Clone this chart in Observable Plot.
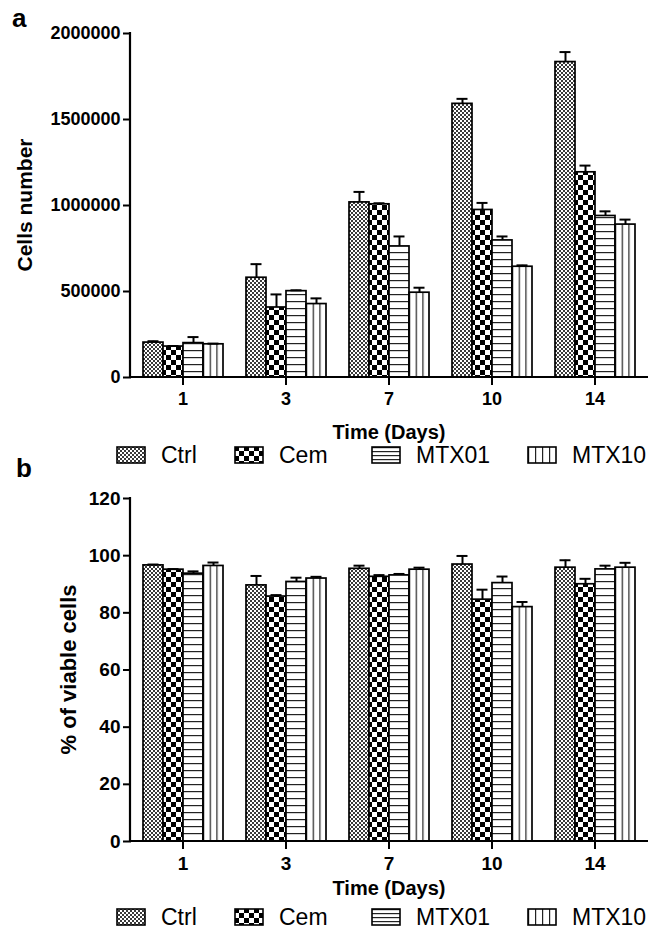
<!DOCTYPE html>
<html><head><meta charset="utf-8">
<script src="https://cdn.jsdelivr.net/npm/d3@7"></script>
<script src="https://cdn.jsdelivr.net/npm/@observablehq/plot@0.6"></script>
<style>
body{margin:0;background:#fff;}
#fig{position:relative;width:657px;height:929px;font-family:"Liberation Sans",Arial,sans-serif;overflow:hidden;background:#fff}
#fig > svg{position:absolute;left:0}
.lbl{position:absolute;font-weight:bold;font-size:26px;line-height:26px;height:26px}
.legend{position:absolute;left:0;width:657px;height:26px}
.item{position:absolute;top:0;display:flex;align-items:center;height:26px;font-size:23px;line-height:26px}
.item svg{margin-right:15px;display:block}
</style></head><body>
<svg width="0" height="0" style="position:absolute">
  <defs>
    <pattern id="pat-Ctrl" patternUnits="userSpaceOnUse" width="4" height="4">
      <rect width="4" height="4" fill="#fff"/><rect width="2" height="2" fill="#3a3a3a"/><rect x="2" y="2" width="2" height="2" fill="#3a3a3a"/>
    </pattern>
    <pattern id="pat-Cem" patternUnits="userSpaceOnUse" width="10" height="10">
      <rect width="10" height="10" fill="#fff"/><rect width="5" height="5" fill="#000"/><rect x="5" y="5" width="5" height="5" fill="#000"/>
    </pattern>
    <pattern id="pat-MTX01" patternUnits="userSpaceOnUse" width="10" height="7">
      <rect width="10" height="7" fill="#fff"/><rect y="0" width="10" height="1.2" fill="#222"/>
    </pattern>
    <pattern id="pat-MTX10" patternUnits="objectBoundingBox" width="0.3333" height="1">
      <rect width="100" height="3000" fill="#fff"/><rect x="0" width="1.2" height="3000" fill="#222"/>
    </pattern>
    <pattern id="leg-MTX01" patternUnits="objectBoundingBox" width="1" height="0.25">
      <rect width="100" height="100" fill="#fff"/><rect y="0" width="100" height="1.2" fill="#222"/>
    </pattern>
    <pattern id="leg-MTX10" patternUnits="objectBoundingBox" width="0.25" height="1">
      <rect width="100" height="100" fill="#fff"/><rect x="0" width="1.2" height="100" fill="#222"/>
    </pattern>
  </defs>
</svg>
<div id="fig"></div>
<script>
// ---- data ----
const days = ["1", "3", "7", "10", "14"];
const series = ["Ctrl", "Cem", "MTX01", "MTX10"];

// panel a: cells number (mean, SEM)
const cellsCtrl  = [203000, 580000, 1018000, 1591000, 1834000];
const cellsCem   = [180000, 407000, 1007000,  974000, 1193000];
const cellsMTX01 = [200000, 502000,  762000,  797000,  939000];
const cellsMTX10 = [193000, 427000,  493000,  644000,  889000];
const cellsCtrlSem  = [8000, 79000, 61000, 29000, 58000];
const cellsCemSem   = [3000, 76000,  6000, 41000, 39000];
const cellsMTX01Sem = [35000, 5000, 58000, 23000, 27000];
const cellsMTX10Sem = [4000, 33000, 29000,  8000, 29000];
const cellsTicks = [0, 500000, 1000000, 1500000, 2000000];

// panel b: % of viable cells (mean, SEM)
const viaCtrl  = [96.6, 89.6, 95.4, 96.9, 95.8];
const viaCem   = [95.1, 85.7, 92.6, 84.6, 90.0];
const viaMTX01 = [93.7, 90.8, 93.1, 90.4, 95.2];
const viaMTX10 = [96.4, 92.0, 95.1, 82.0, 95.8];
const viaCtrlSem  = [0.3, 3.3, 1.1, 3.0, 2.6];
const viaCemSem   = [0.2, 0.5, 0.6, 3.5, 1.9];
const viaMTX01Sem = [0.8, 1.5, 0.5, 2.3, 1.3];
const viaMTX10Sem = [1.2, 0.6, 0.7, 1.8, 1.7];
const viaTicks = [0, 20, 40, 60, 80, 100, 120];

function buildRows(means, sems) {
  const rows = [];
  series.forEach((s, si) => days.forEach((d, di) => {
    rows.push({day: d, series: s, value: means[si][di], err: means[si][di] + sems[si][di]});
  }));
  return rows;
}
const rowsA = buildRows([cellsCtrl, cellsCem, cellsMTX01, cellsMTX10], [cellsCtrlSem, cellsCemSem, cellsMTX01Sem, cellsMTX10Sem]);
const rowsB = buildRows([viaCtrl, viaCem, viaMTX01, viaMTX10], [viaCtrlSem, viaCemSem, viaMTX01Sem, viaMTX10Sem]);

const fig = document.getElementById("fig");
const FONT = "Liberation Sans, Arial, Helvetica, sans-serif";
const AXOFF = 11;

function panel({rows, ticks, top, height, marginTop, marginBottom, yLabel, yLabelX, yLabelSize, titleY, tickFont}) {
  const marginLeft = 141, marginRight = 20;
  const yMax = ticks[ticks.length - 1];
  const svg = Plot.plot({
    width: 657, height, marginLeft, marginRight, marginTop, marginBottom,
    style: {fontFamily: FONT, fontSize: tickFont + "px", fontWeight: "bold", color: "#000", background: "transparent", overflow: "visible"},
    fx: {domain: days, paddingInner: 0.21, paddingOuter: 0, label: null},
    x: {domain: series, padding: 0, axis: null},
    y: {domain: [0, yMax], label: null, axis: null},
    color: {domain: series, range: series.map(s => `url(#pat-${s})`)},
    marks: [
      Plot.barY(rows, {fx: "day", x: "series", y: "value", fill: "series", stroke: "#000", strokeWidth: 1.7}),
      Plot.ruleX(rows, {fx: "day", x: "series", y1: "value", y2: "err", stroke: "#000", strokeWidth: 2}),
      Plot.tickY(rows, {fx: "day", x: "series", y: "err", stroke: "#000", strokeWidth: 2, insetLeft: 4.5, insetRight: 4.5}),
      Plot.axisY({ticks, tickSize: 8, tickPadding: 3, tickFormat: d => String(d), strokeWidth: 2, dx: -AXOFF, label: null}),
      Plot.axisFx({anchor: "bottom", tickSize: 8, tickPadding: 7, strokeWidth: 2, label: null})
    ]
  });
  svg.style.top = top + "px";
  const y = svg.scale("y");
  const s = d3.select(svg);
  const y0 = y.apply(0), yT = y.apply(yMax);
  const xl = marginLeft - AXOFF, xr = 657 - marginRight + AXOFF;
  s.append("line").attr("x1", xl - 1).attr("x2", xr).attr("y1", y0).attr("y2", y0)
    .attr("stroke", "#000").attr("stroke-width", 2.2);
  s.append("line").attr("x1", xl).attr("x2", xl).attr("y1", y0).attr("y2", yT - 1)
    .attr("stroke", "#000").attr("stroke-width", 2.2);
  s.append("text").attr("x", (xl + xr) / 2).attr("y", titleY).attr("dy", "0.35em")
    .attr("text-anchor", "middle").attr("font-family", FONT).attr("font-size", 20).attr("font-weight", "bold")
    .text("Time (Days)");
  s.append("text").attr("transform", `translate(${yLabelX},${(y0 + yT) / 2}) rotate(-90)`).attr("dy", "0.35em")
    .attr("text-anchor", "middle").attr("font-family", FONT).attr("font-size", yLabelSize).attr("font-weight", "bold")
    .text(yLabel);
  fig.appendChild(svg);
}

function legend(top) {
  const div = document.createElement("div");
  div.className = "legend";
  div.style.top = top + "px";
  const lefts = [116, 234, 371, 527];
  series.forEach((s, i) => {
    const it = document.createElement("div");
    it.className = "item";
    it.style.left = lefts[i] + "px";
    const pid = (s === "MTX01" || s === "MTX10") ? `leg-${s}` : `pat-${s}`;
    it.innerHTML = `<svg width="30" height="18"><rect x="1" y="1" width="28" height="16" fill="url(#${pid})" stroke="#000" stroke-width="1.6"/></svg><span>${s}</span>`;
    div.appendChild(it);
  });
  fig.appendChild(div);
}

panel({rows: rowsA, ticks: cellsTicks, top: 0, height: 445, marginTop: 33, marginBottom: 68,
       yLabel: "Cells number", yLabelX: 25, yLabelSize: 21, titleY: 432, tickFont: 18});
legend(442);
panel({rows: rowsB, ticks: viaTicks, top: 462, height: 435, marginTop: 36, marginBottom: 56,
       yLabel: "% of viable cells", yLabelX: 68, yLabelSize: 22, titleY: 426, tickFont: 19});
legend(904);

for (const [t, l, tp] of [["a", 12, 5], ["b", 16, 455]]) {
  const d = document.createElement("div");
  d.className = "lbl"; d.textContent = t; d.style.left = l + "px"; d.style.top = tp + "px";
  fig.appendChild(d);
}
</script>
</body></html>
